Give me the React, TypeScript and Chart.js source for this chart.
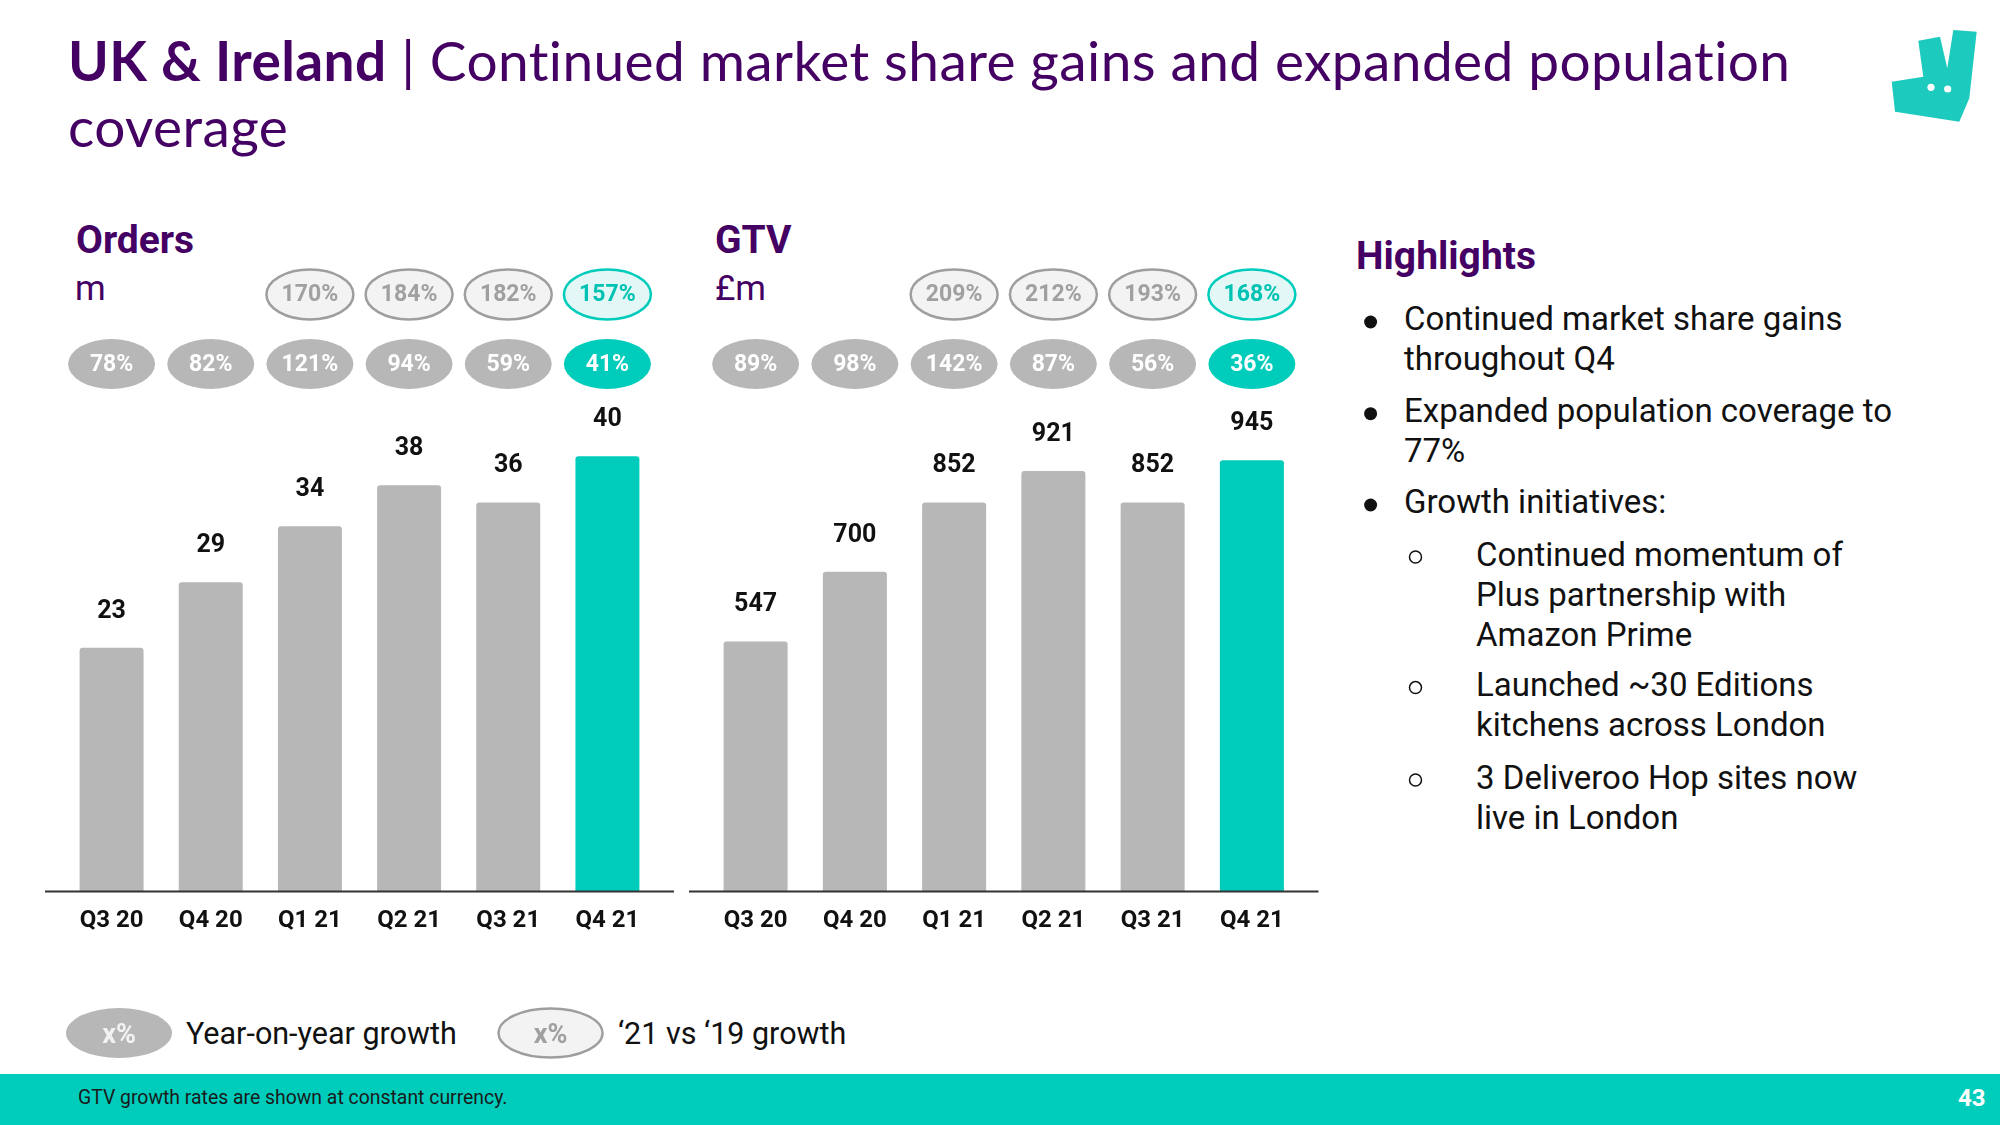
import React, { useEffect, useRef } from "react";
import { Chart, registerables } from "chart.js";

Chart.register(...registerables);

// ---------- DATA ----------
const quarters = ["Q3 20", "Q4 20", "Q1 21", "Q2 21", "Q3 21", "Q4 21"];
const ordersValues = [22.6, 28.7, 33.9, 37.7, 36.1, 40.4];
const ordersYoY = ["78%", "82%", "121%", "94%", "59%", "41%"];
const orders21vs19 = [null, null, "170%", "184%", "182%", "157%"];
const gtvValues = [547, 700, 852, 921, 852, 945];
const gtvYoY = ["89%", "98%", "142%", "87%", "56%", "36%"];
const gtv21vs19 = [null, null, "209%", "212%", "193%", "168%"];
const highlightIndex = 5;

// ---------- STYLE ----------
const TEAL = "#00ccbc";
const GREY = "#b7b7b7";
const PURPLE = "#440063";

const overlayPlugin = {
  id: "overlay",
  afterDatasetsDraw(chart: any, _args: any, opts: any) {
    const { ctx, chartArea } = chart;
    const meta = chart.getDatasetMeta(0);
    const xs = chart.scales.x;
    const data = chart.data.datasets[0].data;
    ctx.save();
    // axis baseline
    ctx.strokeStyle = "#333";
    ctx.lineWidth = 2;
    ctx.beginPath();
    ctx.moveTo(chartArea.left - opts.axisExtend, chartArea.bottom + 0.5);
    ctx.lineTo(chartArea.right + opts.axisExtend, chartArea.bottom + 0.5);
    ctx.stroke();
    // value labels
    ctx.font = "bold 25px Roboto";
    ctx.fillStyle = "#111";
    ctx.textAlign = "center";
    ctx.textBaseline = "middle";
    meta.data.forEach((bar: any, i: number) => {
      ctx.fillText(String(Math.round(data[i])), bar.x, bar.y - opts.labelGap);
    });
    // growth bubbles
    (opts.rows || []).forEach((row: any) => {
      row.labels.forEach((lab: string | null, i: number) => {
        if (lab == null) return;
        const x = xs.getPixelForValue(i);
        const hi = i === highlightIndex;
        ctx.beginPath();
        ctx.ellipse(x, row.y, opts.rx, opts.ry, 0, 0, Math.PI * 2);
        if (row.kind === "filled") {
          ctx.fillStyle = hi ? TEAL : GREY;
          ctx.fill();
          ctx.fillStyle = "#ffffff";
        } else {
          ctx.fillStyle = hi ? "#e3f8f6" : "#f3f3f3";
          ctx.fill();
          ctx.lineWidth = 2.5;
          ctx.strokeStyle = hi ? TEAL : "#9e9e9e";
          ctx.stroke();
          ctx.fillStyle = hi ? "#00c2b3" : "#a0a0a0";
        }
        ctx.font = "bold 23px Roboto";
        ctx.textAlign = "center";
        ctx.textBaseline = "middle";
        ctx.fillText(lab, x, row.y + 1);
      });
    });
    ctx.restore();
  },
};

function BarPanel(props: {
  values: number[];
  yoy: (string | null)[];
  vs19: (string | null)[];
  max: number;
  padLeft: number;
  padRight: number;
  left: number;
  width: number;
}) {
  const ref = useRef<HTMLCanvasElement | null>(null);
  useEffect(() => {
    if (!ref.current) return;
    const colors = props.values.map((_, i) => (i === highlightIndex ? TEAL : GREY));
    const chart = new Chart(ref.current, {
      type: "bar",
      data: {
        labels: quarters,
        datasets: [
          {
            data: props.values,
            backgroundColor: colors,
            borderRadius: 3,
            borderSkipped: "bottom",
            barPercentage: 0.645,
            categoryPercentage: 1,
          },
        ],
      },
      options: {
        responsive: false,
        animation: false,
        devicePixelRatio: 1,
        layout: { padding: { left: props.padLeft, right: props.padRight, top: 93, bottom: 0 } },
        plugins: {
          legend: { display: false },
          tooltip: { enabled: false },
          overlay: {
            axisExtend: 17,
            labelGap: 36.5,
            rx: 43.5,
            ry: 25,
            rows: [
              { labels: props.vs19, y: 34.5, kind: "outline" },
              { labels: props.yoy, y: 104, kind: "filled" },
            ],
          },
        } as any,
        scales: {
          x: {
            offset: true,
            grid: { display: false },
            border: { display: false },
            ticks: {
              color: "#111",
              padding: 8,
              font: { family: "Roboto", size: 24, weight: "bold" },
              maxRotation: 0,
            },
            afterFit: (scale: any) => {
              scale.height = 69;
            },
          },
          y: { display: false, min: 0, max: props.max },
        },
      },
      plugins: [overlayPlugin],
    });
    return () => chart.destroy();
  }, []);
  return (
    <canvas
      ref={ref}
      width={props.width}
      height={700}
      style={{ position: "absolute", left: props.left, top: 260, width: props.width, height: 700 }}
    />
  );
}

const abs = (l: number, t: number, extra: any = {}) => ({
  position: "absolute" as const,
  left: l,
  top: t,
  whiteSpace: "nowrap" as const,
  ...extra,
});

export default function App() {
  const bodyFont = { fontFamily: "Roboto", color: "#111" };
  const para = (top: number, left: number, lines: string[]) => (
    <div style={abs(left, top, { ...bodyFont, fontSize: 33, lineHeight: "40px" })}>
      {lines.map((l, i) => (
        <div key={i}>{l}</div>
      ))}
    </div>
  );
  return (
    <div
      style={{
        position: "fixed",
        left: 0,
        top: 0,
        width: 2000,
        height: 1125,
        background: "#fff",
        overflow: "hidden",
      }}
    >
      {/* Title */}
      <div
        style={abs(68, 27, {
          fontFamily: "Lato",
          fontSize: 55,
          lineHeight: "66px",
          color: PURPLE,
          letterSpacing: "0.4px",
          fontVariantLigatures: "none",
        })}
      >
        <span style={{ fontWeight: 700 }}>UK &amp; Ireland</span> | Continued market share gains and expanded population
        <br />
        coverage
      </div>

      {/* Panel headings */}
      <div style={abs(76, 220.5, { fontFamily: "Roboto", fontWeight: 700, fontSize: 39, lineHeight: "39px", color: PURPLE })}>Orders</div>
      <div style={abs(75, 270.5, { fontFamily: "Roboto", fontSize: 35, lineHeight: "35px", color: PURPLE })}>m</div>
      <div style={abs(715, 220.5, { fontFamily: "Roboto", fontWeight: 700, fontSize: 39, lineHeight: "39px", color: PURPLE })}>GTV</div>
      <div style={abs(715, 270.5, { fontFamily: "Roboto", fontSize: 35, lineHeight: "35px", color: PURPLE })}>£m</div>

      <BarPanel values={ordersValues} yoy={ordersYoY} vs19={orders21vs19} max={50} padLeft={62} padRight={33} left={0} width={690} />
      <BarPanel values={gtvValues} yoy={gtvYoY} vs19={gtv21vs19} max={1180} padLeft={66} padRight={38.5} left={640} width={700} />

      {/* Highlights */}
      <div style={abs(1356, 236.5, { fontFamily: "Roboto", fontWeight: 700, fontSize: 39, lineHeight: "39px", color: PURPLE })}>Highlights</div>
      {para(299, 1404, ["Continued market share gains", "throughout Q4"])}
      {para(391, 1404, ["Expanded population coverage to", "77%"])}
      {para(482, 1404, ["Growth initiatives:"])}
      {para(535, 1476, ["Continued momentum of", "Plus partnership with", "Amazon Prime"])}
      {para(665, 1476, ["Launched ~30 Editions", "kitchens across London"])}
      {para(758, 1476, ["3 Deliveroo Hop sites now", "live in London"])}

      {/* Legend text */}
      <div style={abs(186, 1019, { ...bodyFont, fontSize: 30.5, lineHeight: "30px" })}>Year-on-year growth</div>
      <div style={abs(618, 1019, { ...bodyFont, fontSize: 30.5, lineHeight: "30px" })}>‘21 vs ‘19 growth</div>

      {/* Footer */}
      <div style={{ position: "absolute", left: 0, top: 1074, width: 2000, height: 51, background: TEAL }} />
      <div style={abs(78, 1088, { ...bodyFont, fontSize: 19.4, lineHeight: "19px", color: "#1a1a1a" })}>
        GTV growth rates are shown at constant currency.
      </div>
      <div style={abs(1958, 1086.3, { fontFamily: "Roboto", fontWeight: 700, fontSize: 24, lineHeight: "24px", color: "#fff" })}>43</div>

      {/* Shapes */}
      <svg width={2000} height={1125} style={{ position: "absolute", left: 0, top: 0, pointerEvents: "none" }}>
        {[322, 413.7, 505].map((y, i) => (
          <circle key={"b" + i} cx={1370.6} cy={y} r={6.5} fill="#111" />
        ))}
        {[557, 687.6, 780].map((y, i) => (
          <circle key={"s" + i} cx={1415.5} cy={y} r={6} fill="none" stroke="#111" strokeWidth={1.5} />
        ))}
        <ellipse cx={119} cy={1033} rx={53} ry={25} fill={GREY} />
        <text x={119} y={1043} textAnchor="middle" fontFamily="Roboto" fontWeight={700} fontSize={27} fill="#f2f2f2">x%</text>
        <ellipse cx={550.5} cy={1033} rx={52} ry={24.5} fill="#f3f3f3" stroke="#9e9e9e" strokeWidth={2.5} />
        <text x={550.5} y={1043} textAnchor="middle" fontFamily="Roboto" fontWeight={700} fontSize={27} fill="#a0a0a0">x%</text>
        <polygon
          points="1918.3,40.7 1940,36.7 1947.3,68.3 1953.3,30 1976.7,31.7 1969.3,98.3 1959.3,121.7 1895,111.7 1891.7,81.7 1923.3,76.7"
          fill="#1ccbbd"
        />
        <circle cx={1931} cy={87.3} r={3.6} fill="#fff" />
        <circle cx={1947.7} cy={89} r={3.6} fill="#fff" />
      </svg>
    </div>
  );
}
